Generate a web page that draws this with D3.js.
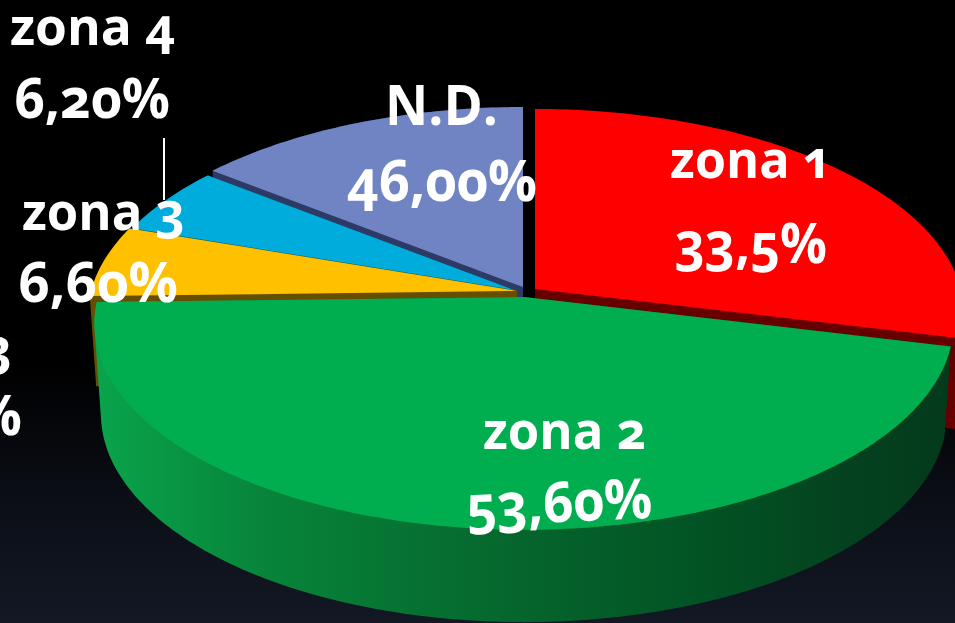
<!DOCTYPE html>
<html><head><meta charset="utf-8">
<script src="https://cdn.jsdelivr.net/npm/d3@7"></script>
<style>html,body{margin:0;padding:0;background:#000;overflow:hidden}
text{font-family:"Open Sans",sans-serif;font-weight:700;fill:#fff;font-variant-numeric:oldstyle-nums;font-feature-settings:"onum"}</style>
</head><body><svg id="c" width="955" height="623"></svg>
<script>
// Data
const categories = ["zona 1","zona 2","zona 3","zona 4","N.D."];
const printedLabels = ["33,5%","53,60%","6,60%","6,20%","46,00%"];
const sliceShares = [28.8,45.8,5.6,5.4,14.4]; // drawn slice sizes, as measured on the pie

// Styling and layout
const topColors  = ["#ff0000","#00ae50","#ffc000","#00acdc","#7084c4"];
const wallColors = ["#660000","url(#greenWall)","#664e00","#005e78","#2e3a66"];
const apexes = [[535,289],[524,297],[517,291],[514,290],[523,287]];
const radii = [1,1,1,0.985,1];
const drawOrder = [4,3,2,0,1];
const RX=426, RY=203, P=0.128, DEPTH=90, BOTTOM_X=0.985, BOTTOM_Y=1.01;

const svg = d3.select("#c");
const defs = svg.append("defs");
const bg = defs.append("linearGradient").attr("id","bg").attr("x1",0).attr("x2",0).attr("y1",0).attr("y2",1);
[[0,"#000"],[.58,"#000"],[.8,"#0b0e16"],[1,"#121824"]].forEach(s=>bg.append("stop").attr("offset",s[0]).attr("stop-color",s[1]));
const gw = defs.append("linearGradient").attr("id","greenWall").attr("gradientUnits","userSpaceOnUse")
  .attr("x1",95).attr("x2",950).attr("y1",0).attr("y2",0);
[[0,"#0aa44c"],[.2,"#07843a"],[.5,"#05652c"],[.72,"#025223"],[.88,"#04421f"],[1,"#033a1c"]]
  .forEach(s=>gw.append("stop").attr("offset",s[0]).attr("stop-color",s[1]));
svg.append("rect").attr("width",955).attr("height",623).attr("fill","url(#bg)");

const pie = d3.pie().sort(null).value(d=>d)(sliceShares);
const line = d3.line();
function project(i,r,a,bottom){
  const X=r*radii[i]*Math.sin(a), Y=r*radii[i]*Math.cos(a), s=1/(1+P*Y);
  return [apexes[i][0]+X*s*RX*(bottom?BOTTOM_X:1), apexes[i][1]-Y*s*RY*(bottom?BOTTOM_Y:1)+(bottom?DEPTH:0)];
}
function sector(i,bottom){
  const p=pie[i], n=Math.max(8,Math.ceil((p.endAngle-p.startAngle)*60));
  return [project(i,0,0,bottom)].concat(d3.range(n+1).map(k=>
    project(i,1,p.startAngle+(p.endAngle-p.startAngle)*k/n,bottom)));
}
drawOrder.forEach(i=>{
  const hull=d3.polygonHull(sector(i,false).concat(sector(i,true)));
  svg.append("path").attr("d",line(hull)+"Z").attr("fill",wallColors[i]);
  svg.append("path").attr("d",line(sector(i,false))+"Z").attr("fill",topColors[i]);
});

// leader line of zona 4
svg.append("line").attr("x1",164).attr("x2",164).attr("y1",138).attr("y2",200).attr("stroke","#fff").attr("stroke-width",2);

function put(str,x,y,fs,w,rot,anchor){
  svg.append("text").attr("x",x).attr("y",y).attr("font-size",fs)
    .attr("text-anchor",anchor||"start")
    .attr("textLength",w).attr("lengthAdjust","spacingAndGlyphs")
    .attr("transform",rot?`rotate(${rot} ${x} ${y})`:null).text(str);
}
put(categories[0],670,178,52,162);
put(printedLabels[0],675,263,56,152);
put(categories[1],483,449,52,163);
put(printedLabels[1],467,526,56,186,-2.5);
put(categories[2],22,230,52,163);
put(printedLabels[2],18,302,56,160);
put(categories[3],10,45,52,165);
put(printedLabels[3],14,118,56,156);
put(categories[4],385,125,56,113);
put(printedLabels[4],347,201,58,190);
// duplicate zona 3 label running off the left edge
put(categories[2],-151,366,52,163);
put(printedLabels[2],-138,435,56,160);
</script></body></html>
